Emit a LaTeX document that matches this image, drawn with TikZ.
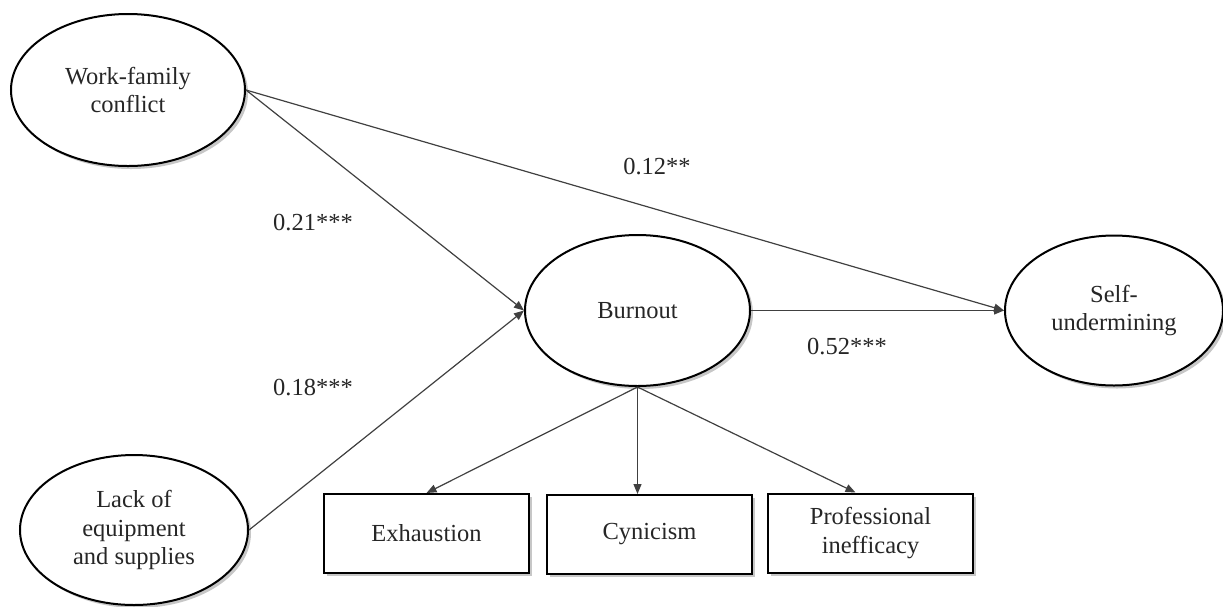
\documentclass[tikz,border=0pt]{standalone}
\usepackage{fontspec}
\setmainfont{Liberation Serif}
\usetikzlibrary{shapes.geometric,arrows.meta,shadows,calc}
\tikzset{
  lat/.style={ellipse, draw=black, line width=2pt, fill=white, inner sep=0pt,
    align=center, text=black!85,
    drop shadow={shadow xshift=3pt, shadow yshift=-3pt, fill=black, opacity=0.22}},
  obs/.style={rectangle, draw=black, line width=2pt, fill=white, inner sep=0pt,
    minimum width=205pt, minimum height=79pt, align=center, text=black!85,
    drop shadow={shadow xshift=3pt, shadow yshift=-3pt, fill=black, opacity=0.22}},
  path/.style={draw=black!75, line width=1.2pt, -{Triangle[length=10pt,width=8pt]}},
  coef/.style={text=black!85, inner sep=0pt}
}
\begin{document}
\begin{tikzpicture}[x=1pt,y=-1pt, font=\fontsize{24.5}{28.5}\selectfont]
\useasboundingbox (0,0) rectangle (1223,606);
\node[lat, minimum width=234pt, minimum height=152pt] (wfc) at (128,90) {Work-family\\conflict};
\node[lat, minimum width=228pt, minimum height=150pt] (lack) at (134,530) {Lack of\\equipment\\and supplies};
\node[lat, minimum width=225pt, minimum height=151pt] (burn) at (637.5,310.5) {Burnout};
\node[lat, minimum width=218pt, minimum height=150pt] (self) at (1114,310.5) {Self-\\undermining};
\node[obs] (exh) at (426.5,533.5) {Exhaustion};
\node[obs] (cyn) at (649.5,534.5) {Cynicism};
\node[obs] (prof) at (870.5,533) {Professional\\inefficacy};
\draw[path] (wfc.east) -- (burn.west);
\draw[path] (lack.east) -- (burn.west);
\draw[path] (wfc.east) -- (self.west);
\draw[path] (burn.east) -- (self.west);
\draw[path] (burn.south) -- (exh.north);
\draw[path] (burn.south) -- (burn.south |- cyn.north);
\draw[path] (burn.south) -- ($(prof.north)+(-15,0)$);
\node[coef] (c1) at (657,167) {0.12**};
\node[coef] (c2) at (313,223) {0.21***};
\node[coef] (c3) at (313,388) {0.18***};
\node[coef] (c4) at (847,347) {0.52***};
\end{tikzpicture}
\end{document}
